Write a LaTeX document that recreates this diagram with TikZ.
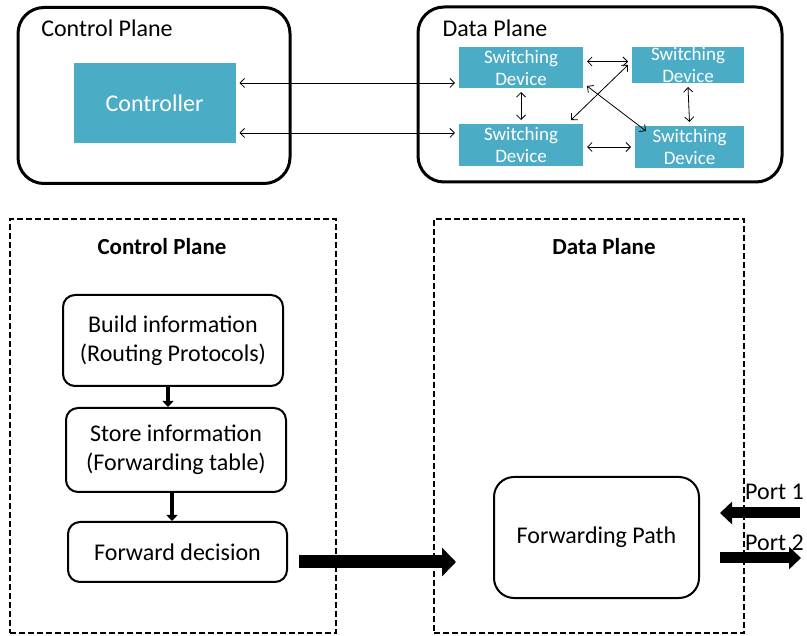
\documentclass[tikz,border=0pt]{standalone}
\usepackage{fontspec}
\setmainfont{Carlito}
\usetikzlibrary{arrows.meta,shadows}
\definecolor{teal1}{RGB}{75,172,198}
\tikzset{
  plane/.style={draw, line width=3pt, rounded corners=26pt},
  tealbox/.style={fill=teal1, draw=white, line width=4pt, text=white, align=center,
    inner sep=0pt, drop shadow={shadow xshift=1pt, shadow yshift=-1.5pt, fill=black, opacity=0.25}},
  thin2/.style={line width=0.8pt, {Straight Barb[length=4.5pt,width=9pt]}-{Straight Barb[length=4.5pt,width=9pt]}},
  dashbox/.style={draw, line width=1.8pt, dash pattern=on 6pt off 3pt, minimum width=#1, minimum height=414pt, inner sep=0pt},
  stepbox/.style={draw, line width=2pt, rounded corners=12pt, align=center, inner sep=0pt, font=\fontsize{24}{29}\selectfont},
  smallarr/.style={line width=4pt, -{Triangle[length=6pt,width=11pt]}},
  bigarr/.style={line width=13pt, -{Triangle[length=14pt,width=28pt]}},
  portarr/.style={line width=11pt, -{Triangle[length=12pt,width=22pt]}},
  bigtxt/.style={font=\fontsize{24}{29}\selectfont},
  sdtxt/.style={font=\fontsize{19}{22}\selectfont},
}
\begin{document}
\begin{tikzpicture}[x=1pt,y=-1pt]
\useasboundingbox (0,0) rectangle (807,636);
% top planes
\node[plane, minimum width=272pt, minimum height=176pt] (cp) at (154,95.5) {};
\node[plane, minimum width=364pt, minimum height=175pt] (dp) at (600,94.5) {};
\node[bigtxt] (cpt) at (107,28) {Control Plane};
\node[bigtxt] (dpt) at (495,28) {Data Plane};
% controller and switches
\node[tealbox, bigtxt, minimum width=166pt, minimum height=84pt] (ctrl) at (154.5,103) {Controller};
\node[tealbox, sdtxt, minimum width=128pt, minimum height=45pt] (sd1) at (521,67.5) {Switching\\Device};
\node[tealbox, sdtxt, minimum width=116pt, minimum height=40pt] (sd2) at (688,65) {Switching\\Device};
\node[tealbox, sdtxt, minimum width=128pt, minimum height=46pt] (sd3) at (521,145) {Switching\\Device};
\node[tealbox, sdtxt, minimum width=113pt, minimum height=46pt] (sd4) at (689.5,147) {Switching\\Device};
% top connectors
\draw[thin2] ([yshift=20pt]ctrl.east) -- ([yshift=20pt]ctrl.east -| sd1.west);
\draw[thin2] ([yshift=-30pt]ctrl.east) -- ([yshift=-30pt]ctrl.east -| sd3.west);
\draw[thin2] ([yshift=6pt]sd1.east) -- ([yshift=6pt]sd1.east -| sd2.west);
\draw[thin2] (sd1.south) -- (sd3.north);
\draw[thin2] (sd2.south) -- (sd4.north);
\draw[thin2] ([yshift=-2pt]sd3.east) -- ([yshift=-2pt]sd3.east -| sd4.west);
\draw[thin2] ([xshift=50pt]sd3.north) -- (sd2.west);
\draw[thin2] ([yshift=6pt]sd1.south east) -- ([xshift=15pt,yshift=-9pt]sd4.north west);
% bottom
\node[dashbox=326pt] (cpb) at (173,426) {};
\node[dashbox=310pt] (dpb) at (589,426) {};
\node[bigtxt, font=\fontsize{23}{28}\selectfont\bfseries] (cpbt) at (162,247) {Control Plane};
\node[bigtxt, font=\fontsize{23}{28}\selectfont\bfseries] (dpbt) at (604,247) {Data Plane};
\node[stepbox, minimum width=220pt, minimum height=91pt] (build) at (173,340.5) {Build information\\(Routing Protocols)};
\node[stepbox, minimum width=220pt, minimum height=84pt] (store) at (176,450) {Store information\\(Forwarding table)};
\node[stepbox, minimum width=219pt, minimum height=60pt] (fd) at (177.5,552) {Forward decision};
\node[stepbox, rounded corners=20pt, minimum width=205pt, minimum height=121pt] (fp) at (596.5,537.5) {Forwarding Path};
\draw[smallarr] ([xshift=-5pt]build.south) -- ([xshift=-5pt]build.south |- store.north);
\draw[smallarr] ([xshift=-4pt]store.south) -- ([xshift=-4pt]store.south |- fd.north);
\draw[bigarr, shorten <=11pt, shorten >=37pt] ([yshift=-10pt]fd.east) -- ([yshift=-10pt]fd.east -| fp.west);
\coordinate (p1a) at (800,513);
\coordinate (p1b) at (720,513);
\coordinate (p2a) at (720,558);
\coordinate (p2b) at (801,558);
\draw[portarr] (p1a) -- (p1b);
\draw[portarr] (p2a) -- (p2b);
\node[bigtxt, anchor=west, inner sep=0pt] (port1) at (745,492) {Port 1};
\node[bigtxt, anchor=west, inner sep=0pt] (port2) at (745,543) {Port 2};
\end{tikzpicture}
\end{document}
